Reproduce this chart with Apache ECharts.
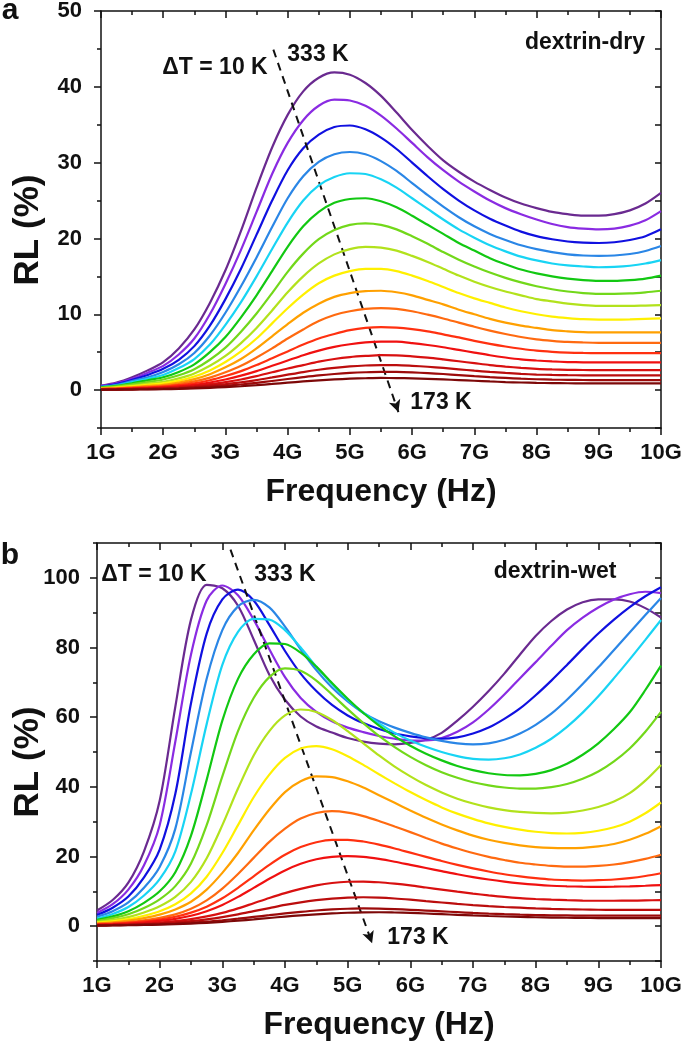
<!DOCTYPE html>
<html><head><meta charset="utf-8">
<script src="https://cdn.jsdelivr.net/npm/echarts@6/dist/echarts.min.js"></script>
<style>html,body{margin:0;padding:0;background:#fff}#c{width:685px;height:1043px}</style>
</head><body><div id="c"></div>
<script>
// ---- data ----
const freq = [1,1.25,1.5,1.75,2,2.25,2.5,2.75,3,3.25,3.5,3.75,4,4.25,4.5,4.75,5,5.25,5.5,5.75,6,6.25,6.5,6.75,7,7.25,7.5,7.75,8,8.25,8.5,8.75,9,9.25,9.5,9.75,10];
const temps = ['333 K','323 K','313 K','303 K','293 K','283 K','273 K','263 K','253 K','243 K','233 K','223 K','213 K','203 K','193 K','183 K','173 K'];
const xTickLabels = ['1G','2G','3G','4G','5G','6G','7G','8G','9G','10G'];
const dryYLabels = [0,10,20,30,40,50];
const wetYLabels = [0,20,40,60,80,100];

// panel a: dextrin-dry, RL (%)
const dry333 = [0.6,1.0,1.7,2.6,3.7,5.5,8.0,11.5,15.8,21.0,26.7,32.0,36.3,39.4,41.2,41.9,41.6,40.5,38.8,36.6,34.3,32.2,30.3,28.8,27.5,26.4,25.4,24.6,24.0,23.5,23.2,23.0,23.0,23.2,23.7,24.6,26.0];
const dry323 = [0.55,0.9,1.5,2.3,3.2,4.7,6.8,10.0,14.0,18.5,23.5,28.5,32.6,35.6,37.5,38.3,38.2,37.5,36.2,34.5,32.6,30.7,29.0,27.5,26.2,25.0,24.0,23.2,22.5,21.9,21.5,21.3,21.2,21.3,21.7,22.4,23.6];
const dry313 = [0.5,0.8,1.35,2.0,2.8,4.0,5.8,8.5,12.0,16.0,20.5,25.0,29.0,31.9,33.7,34.7,34.9,34.4,33.3,31.8,30.0,28.2,26.5,25.0,23.7,22.6,21.7,20.9,20.3,19.9,19.6,19.45,19.4,19.5,19.8,20.3,21.2];
const dry303 = [0.45,0.7,1.2,1.7,2.4,3.4,4.9,7.2,10.2,13.7,17.5,21.5,25.3,28.2,30.1,31.1,31.4,31.1,30.2,28.9,27.3,25.7,24.2,22.8,21.6,20.6,19.8,19.1,18.6,18.2,17.9,17.75,17.7,17.75,17.95,18.35,19.0];
const dry293 = [0.4,0.6,1.05,1.5,2.0,2.9,4.1,6.0,8.6,11.6,15.0,18.6,22.1,25.0,27.0,28.1,28.6,28.5,27.8,26.7,25.3,23.9,22.5,21.2,20.1,19.1,18.3,17.6,17.1,16.7,16.45,16.3,16.2,16.25,16.4,16.7,17.15];
const dry283 = [0.35,0.55,0.9,1.3,1.7,2.4,3.4,5.0,7.0,9.6,12.5,15.7,18.9,21.6,23.5,24.7,25.2,25.3,24.9,24.1,23.0,21.8,20.6,19.4,18.4,17.4,16.6,15.9,15.4,15.0,14.7,14.5,14.4,14.4,14.5,14.7,15.1];
const dry273 = [0.3,0.48,0.75,1.05,1.4,1.95,2.75,4.0,5.6,7.7,10.1,12.8,15.6,18.0,19.9,21.1,21.8,22.0,21.8,21.2,20.3,19.3,18.2,17.2,16.3,15.5,14.8,14.2,13.7,13.3,13.0,12.8,12.7,12.7,12.75,12.9,13.1];
const dry263 = [0.25,0.4,0.6,0.85,1.1,1.55,2.2,3.2,4.5,6.2,8.2,10.5,12.9,15.0,16.7,17.9,18.6,18.9,18.8,18.4,17.7,16.9,16.0,15.1,14.3,13.6,13.0,12.5,12.0,11.7,11.4,11.2,11.1,11.1,11.1,11.15,11.2];
const dry253 = [0.2,0.32,0.5,0.7,0.9,1.25,1.8,2.6,3.7,5.1,6.8,8.8,10.8,12.6,14.1,15.1,15.7,16.0,16.0,15.7,15.1,14.4,13.6,12.8,12.1,11.5,10.9,10.4,10.0,9.7,9.5,9.35,9.3,9.3,9.33,9.4,9.46];
const dry243 = [0.18,0.27,0.4,0.55,0.7,1.0,1.45,2.1,3.0,4.1,5.5,7.1,8.7,10.2,11.4,12.3,12.8,13.05,13.1,12.9,12.5,11.9,11.3,10.6,10.0,9.4,8.9,8.5,8.2,7.9,7.75,7.65,7.6,7.6,7.6,7.6,7.6];
const dry233 = [0.15,0.22,0.33,0.44,0.55,0.8,1.15,1.65,2.35,3.2,4.3,5.5,6.8,8.0,9.1,9.9,10.4,10.7,10.8,10.7,10.4,9.95,9.45,8.9,8.35,7.85,7.4,7.0,6.7,6.5,6.35,6.28,6.24,6.24,6.24,6.24,6.24];
const dry223 = [0.12,0.18,0.27,0.35,0.45,0.65,0.9,1.3,1.85,2.5,3.3,4.2,5.1,6.0,6.8,7.4,7.9,8.2,8.3,8.25,8.05,7.75,7.35,6.95,6.5,6.1,5.75,5.45,5.2,5.05,4.95,4.9,4.88,4.88,4.88,4.88,4.88];
const dry213 = [0.1,0.14,0.2,0.27,0.35,0.5,0.7,1.0,1.4,1.9,2.5,3.2,3.9,4.6,5.2,5.7,6.05,6.3,6.4,6.38,6.2,5.95,5.65,5.3,4.95,4.6,4.3,4.05,3.9,3.78,3.7,3.66,3.65,3.65,3.65,3.65,3.65];
const dry203 = [0.08,0.11,0.16,0.22,0.28,0.4,0.55,0.78,1.05,1.4,1.85,2.35,2.85,3.3,3.75,4.1,4.35,4.5,4.6,4.58,4.45,4.28,4.05,3.8,3.55,3.3,3.1,2.93,2.8,2.72,2.67,2.65,2.64,2.64,2.64,2.64,2.64];
const dry193 = [0.06,0.09,0.13,0.17,0.22,0.3,0.42,0.58,0.78,1.02,1.32,1.67,2.03,2.38,2.68,2.93,3.12,3.24,3.3,3.29,3.2,3.08,2.92,2.74,2.56,2.4,2.26,2.14,2.05,2.0,1.97,1.95,1.94,1.94,1.94,1.94,1.94];
const dry183 = [0.05,0.07,0.1,0.13,0.17,0.23,0.32,0.43,0.57,0.74,0.95,1.2,1.46,1.71,1.94,2.12,2.26,2.35,2.4,2.39,2.33,2.24,2.12,1.98,1.84,1.71,1.6,1.5,1.43,1.38,1.35,1.33,1.32,1.32,1.32,1.32,1.32];
const dry173 = [0.04,0.05,0.07,0.09,0.12,0.16,0.22,0.3,0.4,0.51,0.65,0.81,0.98,1.14,1.29,1.41,1.5,1.56,1.6,1.59,1.55,1.49,1.41,1.32,1.23,1.14,1.06,1.0,0.95,0.92,0.9,0.89,0.88,0.88,0.88,0.88,0.88];

// panel b: dextrin-wet, RL (%)
const wet333 = [4.5,7.5,12.5,21.5,36,63,88,98.0,97.0,92.0,82.3,72.2,65.0,60.2,57.3,55.6,54.0,53.0,52.4,52.2,52.6,53.5,55.5,59.0,63.0,67.5,72.5,78.0,83.3,87.6,90.9,93.0,93.8,93.8,93.2,91.3,88.6];
const wet323 = [3.8,6.3,10.5,17.5,29,53,78,93.5,97.8,95,88,79.5,71.5,65.5,61.5,58.8,57,55.7,54.6,53.8,53.3,53.3,54.0,55.8,58.5,62.2,66.5,71.2,75.8,80.5,85.0,88.6,91.5,93.8,95.3,96.0,95.6];
const wet313 = [3.2,5.3,8.5,14,22,38,64,84,93.8,96.6,93.5,86.5,79,72.5,67.5,63.5,60.5,58.3,56.6,55.3,54.5,54.0,53.8,54.2,55.3,57.0,59.5,62.5,66.3,70.5,75.0,79.6,84.0,88.0,91.6,94.7,97.3];
const wet303 = [2.7,4.3,6.8,11,17,28,50,71,85,91.8,93.7,91.5,86,79.5,73.5,68.5,64.5,61.2,58.8,57.0,55.5,54.2,53.2,52.5,52.2,52.5,53.5,55.3,57.8,61.0,65.0,69.5,74.3,79.3,84.3,89.3,94.2];
const wet293 = [2.2,3.5,5.5,8.8,13.5,21.5,38,58,75,84.5,88.2,88.0,85,80,74.5,69.5,65.0,61.3,58.2,55.5,53.3,51.5,50.0,48.8,48.0,47.8,48.2,49.3,51.2,53.8,57.2,61.3,66.0,71.2,76.6,82.2,87.9];
const wet283 = [1.8,2.8,4.3,6.7,10,15.5,26,42,59,71,78,81.2,81.0,78.5,74.5,69.8,65.3,61.2,57.6,54.5,51.8,49.5,47.6,46.0,44.8,43.9,43.4,43.3,43.7,44.8,46.6,49.2,52.5,56.6,61.4,67.8,74.8];
const wet273 = [1.5,2.3,3.4,5.2,7.7,11.5,18,29,43,56,65.5,71.5,74.0,73.3,70.5,66.5,62.3,58.3,54.6,51.4,48.6,46.2,44.2,42.6,41.3,40.4,39.8,39.5,39.5,39.9,40.8,42.3,44.4,47.3,51.0,55.8,61.5];
const wet263 = [1.2,1.8,2.6,3.9,5.7,8.4,12.7,19.5,29,39.5,49,56,60.5,62.2,61.5,59.2,56.0,52.5,49.0,45.8,43.0,40.5,38.4,36.6,35.2,34.1,33.3,32.8,32.5,32.4,32.6,33.2,34.2,35.8,38.2,41.8,46.3];
const wet253 = [1.0,1.4,2.0,3.0,4.3,6.3,9.4,14.2,21,29,37,43.5,48.3,51.0,51.7,50.8,48.8,46.3,43.6,41.0,38.5,36.2,34.1,32.3,30.8,29.5,28.5,27.7,27.1,26.7,26.6,26.8,27.4,28.4,30.0,32.4,35.5];
const wet243 = [0.8,1.1,1.6,2.3,3.3,4.8,7.0,10.5,15.3,21,27.5,33.5,38.5,41.6,43.0,42.8,41.6,39.8,37.6,35.4,33.2,31.1,29.2,27.5,26.0,24.8,23.9,23.2,22.7,22.45,22.4,22.5,22.9,23.6,24.8,26.5,28.7];
const wet233 = [0.6,0.85,1.2,1.7,2.4,3.4,5.0,7.4,10.8,15.0,19.6,24.2,28.0,30.9,32.5,33.0,32.6,31.6,30.2,28.6,27.0,25.3,23.7,22.3,21.0,19.9,19.0,18.2,17.7,17.3,17.1,17.1,17.3,17.7,18.4,19.3,20.5];
const wet223 = [0.5,0.7,0.95,1.35,1.9,2.7,3.9,5.6,8.0,11.0,14.3,17.6,20.5,22.7,24.1,24.8,24.8,24.3,23.4,22.3,21.1,19.9,18.7,17.6,16.6,15.7,14.9,14.3,13.8,13.4,13.2,13.1,13.2,13.4,13.8,14.4,15.2];
const wet213 = [0.4,0.55,0.75,1.05,1.5,2.1,3.0,4.3,6.1,8.4,11.0,13.6,16.0,17.9,19.2,19.9,20.1,19.9,19.3,18.5,17.6,16.7,15.8,14.9,14.1,13.4,12.8,12.3,11.9,11.6,11.45,11.35,11.3,11.35,11.45,11.6,11.8];
const wet203 = [0.3,0.42,0.57,0.78,1.05,1.45,2.0,2.8,3.8,5.1,6.6,8.1,9.5,10.7,11.7,12.4,12.75,12.8,12.6,12.2,11.7,11.1,10.5,9.9,9.35,8.85,8.4,8.05,7.8,7.6,7.45,7.35,7.3,7.3,7.32,7.4,7.5];
const wet193 = [0.25,0.33,0.45,0.6,0.8,1.08,1.45,1.95,2.6,3.4,4.3,5.2,6.1,6.85,7.45,7.9,8.2,8.3,8.2,7.95,7.6,7.2,6.8,6.4,6.05,5.75,5.5,5.3,5.1,4.95,4.85,4.78,4.72,4.7,4.7,4.7,4.7];
const wet183 = [0.2,0.26,0.34,0.44,0.58,0.76,1.0,1.3,1.7,2.15,2.65,3.15,3.65,4.1,4.5,4.8,5.0,5.1,5.05,4.9,4.7,4.48,4.25,4.02,3.8,3.6,3.43,3.3,3.2,3.12,3.07,3.03,3.0,3.0,3.0,3.0,3.0];
const wet173 = [0.15,0.2,0.27,0.35,0.45,0.58,0.75,0.97,1.25,1.58,1.95,2.35,2.75,3.1,3.4,3.65,3.85,3.95,4.0,3.92,3.8,3.63,3.45,3.26,3.08,2.92,2.78,2.66,2.56,2.48,2.42,2.37,2.33,2.3,2.3,2.3,2.3];

// dashed arrow end points [freq in G, RL %]
const arrowDry = [[3.77, 44.9], [5.78, -2.9]];
const arrowWet = [[3.13, 108.1], [5.39, -4.9]];

const colors = ['#6a2a90','#8a2be2','#1010e0','#2a86e6','#18d4f4','#12c812','#72d81a','#b2e21c','#fff000','#ffa000','#ff6a10','#ff3010','#f01010','#d81010','#bb0d0d','#9c0a0a','#7d0808'];

const dryList = [dry333,dry323,dry313,dry303,dry293,dry283,dry273,dry263,dry253,dry243,dry233,dry223,dry213,dry203,dry193,dry183,dry173];
const wetList = [wet333,wet323,wet313,wet303,wet293,wet283,wet273,wet263,wet253,wet243,wet233,wet223,wet213,wet203,wet193,wet183,wet173];

// ---- chart ----
const FONT = 'Liberation Sans, Arial, sans-serif';
const chart = echarts.init(document.getElementById('c'), null, {renderer:'canvas'});
const black = '#111';
const lineStyleAx = {color: black, width: 1.5};

function xAxes(grid){
  return [
    {gridIndex:grid, type:'value', min:1, max:10, interval:1, position:'bottom',
     axisLine:{onZero:false, lineStyle:lineStyleAx},
     axisTick:{length:7, lineStyle:lineStyleAx},
     minorTick:{show:true, splitNumber:2, length:4, lineStyle:lineStyleAx},
     splitLine:{show:false},
     axisLabel:{margin:14, color:black, fontFamily:FONT, fontWeight:'bold', fontSize:22,
       formatter:(v)=> xTickLabels[Math.round(v)-1]},
     name:'Frequency (Hz)', nameLocation:'middle', nameGap:48,
     nameTextStyle:{color:black, fontFamily:FONT, fontWeight:'bold', fontSize:32}},
    {gridIndex:grid, type:'value', min:1, max:10, interval:1, position:'top',
     axisLine:{onZero:false, lineStyle:lineStyleAx},
     axisTick:{inside:true, length:7, lineStyle:lineStyleAx},
     minorTick:{show:true, splitNumber:2, length:4, lineStyle:lineStyleAx},
     splitLine:{show:false}, axisLabel:{show:false}}
  ];
}
function yAxes(grid, min, max, labels, minors, allTicks, margin){
  return [
    {gridIndex:grid, type:'value', min:min, max:max, position:'left',
     axisLine:{onZero:false, lineStyle:lineStyleAx},
     axisTick:{length:7, lineStyle:lineStyleAx, customValues:labels},
     splitLine:{show:false},
     axisLabel:{margin:margin, color:black, fontFamily:FONT, fontWeight:'bold', fontSize:22, customValues:labels}},
    {gridIndex:grid, type:'value', min:min, max:max, position:'left',
     axisLine:{show:false, onZero:false},
     axisTick:{length:4, lineStyle:lineStyleAx, customValues:minors},
     splitLine:{show:false}, axisLabel:{show:false}},
    {gridIndex:grid, type:'value', min:min, max:max, position:'right',
     axisLine:{onZero:false, lineStyle:lineStyleAx},
     axisTick:{inside:true, length:6, lineStyle:lineStyleAx, customValues:allTicks},
     splitLine:{show:false}, axisLabel:{show:false}}
  ];
}

const series = [];
function addPanel(list, xIdx, yIdx, arrow){
  list.forEach((vals, i) => {
    series.push({type:'line', name:temps[i], xAxisIndex:xIdx, yAxisIndex:yIdx,
      data: freq.map((f, j) => [f, vals[j]]), smooth:0.3, showSymbol:false, symbol:'none',
      lineStyle:{width:2.2, color:colors[i]}, itemStyle:{color:colors[i]}, z:2+i, silent:true,
      animation:false});
  });
  series.push({type:'line', xAxisIndex:xIdx, yAxisIndex:yIdx, data:[], silent:true,
    markLine:{silent:true, symbol:['none','arrow'], symbolSize:[9,12], animation:false,
      label:{show:false},
      lineStyle:{type:[8,6], color:black, width:2},
      data:[[{coord:arrow[0]}, {coord:arrow[1]}]]}});
}
addPanel(dryList, 0, 0, arrowDry);
addPanel(wetList, 2, 3, arrowWet);

const txt = (x, y, s, size, rot) => ({type:'text', x:x, y:y, rotation:rot||0,
  style:{text:s, fill:black, font:'bold '+size+'px '+FONT, textAlign:'center', textVerticalAlign:'middle'}});

chart.setOption({
  backgroundColor:'#fff',
  animation:false,
  grid:[{left:101, top:11, width:560, height:417, outerBoundsMode:'none'},
        {left:97, top:543, width:564, height:418, outerBoundsMode:'none'}],
  xAxis:[...xAxes(0), ...xAxes(1)],
  yAxis:[...yAxes(0, -5, 50, dryYLabels, [-5,5,15,25,35,45], [-5,0,5,10,15,20,25,30,35,40,45,50], 19),
         ...yAxes(1, -10, 110, wetYLabels, [-10,10,30,50,70,90,110], [-10,0,10,20,30,40,50,60,70,80,90,100,110], 17)],
  series: series,
  graphic:[
    txt(10, 11, 'a', 30), txt(215, 68, 'ΔT = 10 K', 23), txt(318, 55, '333 K', 23),
    txt(585, 43, 'dextrin-dry', 23), txt(441, 403, '173 K', 23),
    txt(28, 230, 'RL (%)', 35, Math.PI/2),
    txt(10, 556, 'b', 30), txt(154, 575, 'ΔT = 10 K', 23), txt(285, 575, '333 K', 23),
    txt(555, 572, 'dextrin-wet', 23), txt(418, 938, '173 K', 23),
    txt(28, 762, 'RL (%)', 35, Math.PI/2)
  ]
});
</script></body></html>
